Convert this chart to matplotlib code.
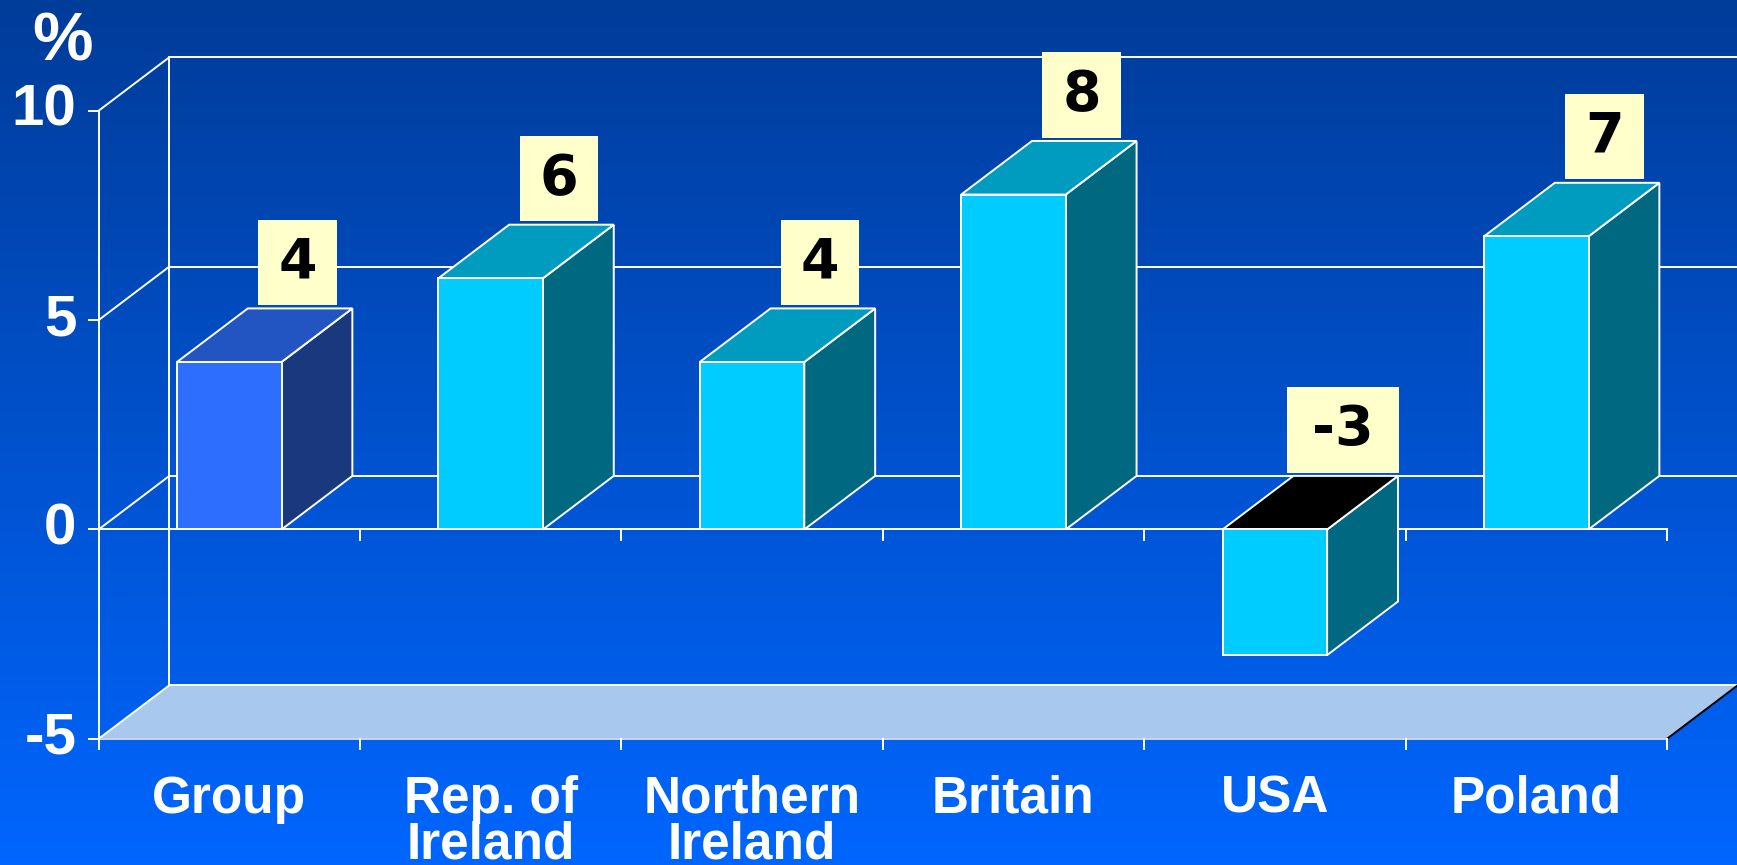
import numpy as np
import matplotlib
matplotlib.use("Agg")
import matplotlib.pyplot as plt
from matplotlib.patches import Polygon, Rectangle
from matplotlib.colors import LinearSegmentedColormap

# ---------------------------------------------------------------------------
# Data
# ---------------------------------------------------------------------------
categories = ["Group", "Rep. of\nIreland", "Northern\nIreland", "Britain", "USA", "Poland"]
values = [4, 6, 4, 8, -3, 7]
value_labels = ["4", "6", "4", "8", "-3", "7"]
y_ticks = [-5, 0, 5, 10]
y_min, y_max = -5, 10

# ---------------------------------------------------------------------------
# Style
# ---------------------------------------------------------------------------
front_colors = ["#2E6EFF", "#00CCFF", "#00CCFF", "#00CCFF", "#00CCFF", "#00CCFF"]
top_colors = ["#2255C2", "#009CBF", "#009CBF", "#009CBF", "#000000", "#009CBF"]
side_colors = ["#1A387E", "#006880", "#006880", "#006880", "#006880", "#006880"]
floor_color = "#A8C8EE"
box_color = "#FFFFCC"
WHITE = "white"
LW = 1.4
DX, DY = 0.271, 1.28      # depth offset of the 3-D box (data units)
BAR_W = 0.4
n = len(categories)

fig = plt.figure(figsize=(17.37, 8.65), dpi=100)

# gradient background
bg = fig.add_axes([0, 0, 1, 1], zorder=0)
grad = np.linspace(0, 1, 256).reshape(-1, 1)
cmap = LinearSegmentedColormap.from_list("bg", ["#003C99", "#0066FF"])
bg.imshow(grad, aspect="auto", cmap=cmap, extent=[0, 1, 0, 1], origin="upper")
bg.set_axis_off()

ax = fig.add_axes([0, 0, 1, 1], zorder=1)
ax.patch.set_alpha(0)
ax.set_axis_off()
ax.set_xlim(-0.377, 6.268)
ax.set_ylim(-8.013, 12.646)

# ---------------------------------------------------------------------------
# Walls and floor
# ---------------------------------------------------------------------------
for v in [0, 5, 10]:
    ax.plot([DX, n + DX], [v + DY] * 2, color=WHITE, lw=LW, zorder=2)
    ax.plot([0, DX], [v, v + DY], color=WHITE, lw=LW, zorder=2)
ax.plot([DX, DX], [y_min + DY, y_max + DY], color=WHITE, lw=LW, zorder=2)

floor = Polygon([(0, y_min), (n, y_min), (n + DX, y_min + DY), (DX, y_min + DY)],
                closed=True, facecolor=floor_color, edgecolor="none", zorder=2)
ax.add_patch(floor)
ax.plot([DX, n + DX], [y_min + DY] * 2, color=WHITE, lw=LW, zorder=3)
ax.plot([0, DX], [y_min, y_min + DY], color=WHITE, lw=LW, zorder=3)
ax.plot([n, n + DX], [y_min, y_min + DY], color="black", lw=LW, zorder=3)

# front axis, zero line and ticks
ax.plot([0, 0], [y_min - 0.24, y_max], color=WHITE, lw=LW, zorder=6)
for v in y_ticks:
    ax.plot([-0.038, 0], [v, v], color=WHITE, lw=LW, zorder=6)
    ax.text(-0.085, v, f"{v}", ha="right", va="center", fontsize=42,
            fontweight="bold", color=WHITE, family="Liberation Sans", zorder=6)
ax.plot([0, n], [0, 0], color=WHITE, lw=LW, zorder=4)
ax.plot([0, n], [y_min, y_min], color="#C8D4E8", lw=LW, zorder=4)
for i in range(1, n + 1):
    ax.plot([i, i], [0, -0.24], color=WHITE, lw=LW, zorder=4)
for i in range(0, n + 1):
    ax.plot([i, i], [y_min, y_min - 0.24], color=WHITE, lw=LW, zorder=4)

ax.text(-0.136, 11.62, "%", ha="center", va="center", fontsize=49,
        fontweight="bold", color=WHITE, family="Liberation Sans")

# ---------------------------------------------------------------------------
# Bars
# ---------------------------------------------------------------------------
for i, v in enumerate(values):
    x0 = i + 0.5 - BAR_W / 2
    lo, hi = min(v, 0), max(v, 0)
    side = Polygon([(x0 + BAR_W, lo), (x0 + BAR_W, hi), (x0 + BAR_W + DX, hi + DY),
                    (x0 + BAR_W + DX, lo + DY)], closed=True,
                   facecolor=side_colors[i], edgecolor=WHITE, lw=LW, zorder=5)
    top = Polygon([(x0, hi), (x0 + BAR_W, hi), (x0 + BAR_W + DX, hi + DY),
                   (x0 + DX, hi + DY)], closed=True,
                  facecolor=top_colors[i], edgecolor=WHITE, lw=LW, zorder=5)
    front = Rectangle((x0, lo), BAR_W, hi - lo, facecolor=front_colors[i],
                      edgecolor=WHITE, lw=LW, zorder=5)
    for p in (side, top, front):
        ax.add_patch(p)

    # value box
    bw = 0.3 if len(value_labels[i]) == 1 else 0.43
    bh = 2.04
    cx = i + 0.5 + DX - 0.01
    by = hi + DY + 0.08
    ax.add_patch(Rectangle((cx - bw / 2, by), bw, bh, facecolor=box_color,
                           edgecolor="none", zorder=7))
    ax.text(cx, by + bh / 2, value_labels[i], ha="center", va="center",
            fontsize=40, fontweight="bold", color="black", zorder=8)

    # category label
    ax.text(i + 0.5, -5.86, categories[i], ha="center", va="top", fontsize=37,
            fontweight="bold", color=WHITE, family="Liberation Sans",
            linespacing=0.92, zorder=6)

fig.savefig("out.png", dpi=100)
